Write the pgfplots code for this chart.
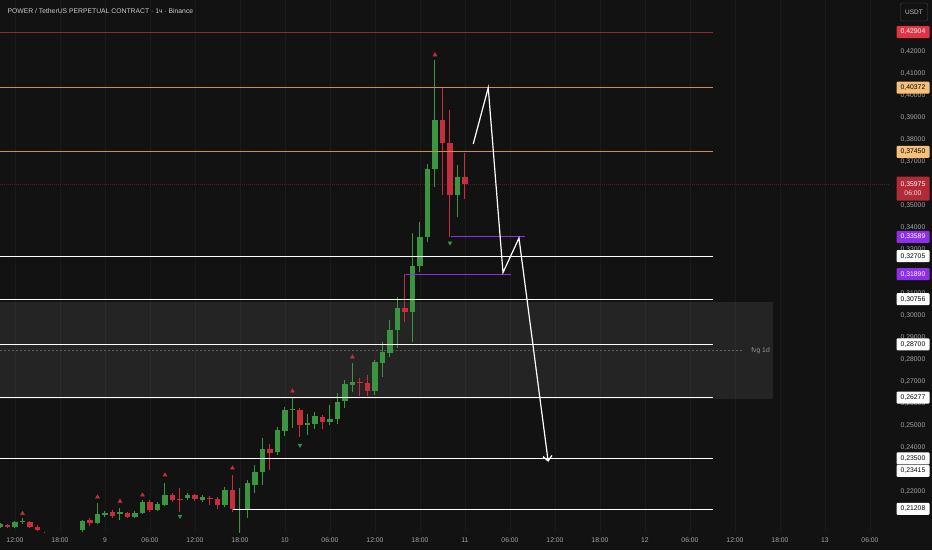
\documentclass[border=0pt]{standalone}
\usepackage{fontspec}
\setmainfont{Liberation Sans}
\usepackage{pgfplots}
\pgfplotsset{compat=1.18}
\usepackage{pgfplotstable}
\usetikzlibrary{arrows.meta}

\definecolor{bgc}{HTML}{121212}
\definecolor{cgreen}{HTML}{3A9440}
\definecolor{cred}{HTML}{C72E3D}
\definecolor{fracgreen}{HTML}{2F8F55}
\definecolor{lvlred}{HTML}{8F2A30}
\definecolor{lvltan}{HTML}{CF8E4E}
\definecolor{labtan}{HTML}{F5C07A}
\definecolor{labred}{HTML}{E23345}
\definecolor{labcur}{HTML}{B02A37}
\definecolor{curline}{HTML}{4E1C21}
\definecolor{cpurple}{HTML}{8E2EE8}
\definecolor{tickc}{HTML}{A6A6A6}
\definecolor{gridc}{HTML}{1B1B1B}

% hourly candles: h = hours from 9th 00:00
\pgfplotstableread{
h   o      hi     lo     c
-14 0.2038 0.2056 0.2034 0.2052
-12 0.2038 0.2065 0.2034 0.2061
-11 0.2063 0.2079 0.2052 0.2065
-6  0.1985 0.1998 0.1975 0.1995
-5  0.1995 0.2005 0.1985 0.2000
-4  0.2000 0.2012 0.1990 0.2005
-3  0.2025 0.2070 0.2016 0.2065
-1  0.2056 0.2148 0.2052 0.2097
0   0.2093 0.2111 0.2084 0.2102
2   0.2100 0.2125 0.2070 0.2102
4   0.2084 0.2111 0.2079 0.2102
5   0.2102 0.2161 0.2097 0.2152
7   0.2116 0.2152 0.2111 0.2143
8   0.2138 0.2239 0.2134 0.2184
11  0.2170 0.2193 0.2161 0.2184
13  0.2161 0.2184 0.2152 0.2175
16  0.2138 0.2220 0.2129 0.2207
18  0.2116 0.2216 0.1985 0.2120
19  0.2116 0.2252 0.2079 0.2239
20  0.2230 0.2320 0.2193 0.2289
21  0.2289 0.2443 0.2229 0.2393
23  0.2380 0.2493 0.2366 0.2480
24  0.2475 0.2584 0.2452 0.2571
25  0.2570 0.2625 0.2489 0.2571
27  0.2502 0.2552 0.2457 0.2511
28  0.2507 0.2561 0.2484 0.2543
30  0.2516 0.2593 0.2502 0.2530
31  0.2530 0.2648 0.2507 0.2607
32  0.2611 0.2707 0.2580 0.2689
33  0.2684 0.2784 0.2652 0.2698
36  0.2657 0.2798 0.2639 0.2789
37  0.2784 0.2880 0.2721 0.2834
38  0.2830 0.2980 0.2812 0.2934
39  0.2934 0.3085 0.2853 0.3035
41  0.3016 0.3376 0.2880 0.3226
42  0.3226 0.3426 0.3198 0.3358
43  0.3358 0.3690 0.3335 0.3667
44  0.3667 0.4163 0.3585 0.3890
47  0.3549 0.3685 0.3449 0.3631
}\greencandles

\pgfplotstableread{
h   o      hi     lo     c
-13 0.2047 0.2052 0.2034 0.2038
-10 0.2061 0.2065 0.2034 0.2038
-9  0.2038 0.2047 0.2020 0.2025
-8  0.2010 0.2014 0.1985 0.1990
-7  0.1990 0.2000 0.1975 0.1985
-2  0.2070 0.2079 0.2043 0.2056
1   0.2106 0.2116 0.2079 0.2088
3   0.2102 0.2106 0.2079 0.2084
6   0.2152 0.2161 0.2106 0.2116
9   0.2184 0.2193 0.2152 0.2161
10  0.2166 0.2216 0.2106 0.2163
12  0.2184 0.2188 0.2156 0.2166
14  0.2170 0.2179 0.2138 0.2166
15  0.2166 0.2175 0.2120 0.2138
17  0.2207 0.2275 0.2106 0.2120
22  0.2393 0.2416 0.2298 0.2375
26  0.2571 0.2580 0.2448 0.2502
29  0.2539 0.2548 0.2484 0.2516
34  0.2695 0.2716 0.2634 0.2693
35  0.2693 0.2730 0.2634 0.2657
40  0.3035 0.3189 0.2971 0.3016
45  0.3890 0.4036 0.3549 0.3785
46  0.3785 0.3936 0.3358 0.3549
48  0.3631 0.3740 0.3531 0.35975
}\redcandles

\tikzset{
  lab/.style={font=\fontsize{6.8}{7.6}\selectfont, inner xsep=1.2pt, inner ysep=1.6pt,
    minimum width=33pt, minimum height=12pt, rounded corners=1pt, anchor=center},
}
\pgfplotsset{
  candle/.style 2 args={#1, only marks, mark=*, mark size=0pt,
    mark options={draw=none, fill=none},
    error bars/.cd, y dir=plus, y explicit, error mark=none,
    error bar style={line width=#2, draw=#1}},
}

\begin{document}
\begin{tikzpicture}
\path[use as bounding box] (0,0) rectangle (932pt,550pt);
\fill[bgc] (0,0) rectangle (932pt,550pt);

\begin{axis}[
  at={(0pt,18pt)}, anchor=south west,
  scale only axis, width=890pt, height=532pt,
  xmin=-14, xmax=104.67, ymin=0.2016, ymax=0.4436,
  axis line style={draw=none},
  major tick length=0pt,
  xtick={-12,-6,0,6,12,18,24,30,36,42,48,54,60,66,72,78,84,90,96,102},
  xticklabels={12:00,18:00,9,06:00,12:00,18:00,10,06:00,12:00,18:00,11,06:00,12:00,18:00,12,06:00,12:00,18:00,13,06:00},
  xmajorgrids, grid style={draw=gridc, line width=0.7pt},
  ytick={0.22,0.24,0.25,0.26,0.27,0.28,0.29,0.30,0.31,0.33,0.34,0.35,0.37,0.38,0.39,0.40,0.41,0.42},
  yticklabel pos=right,
  /pgf/number format/assume math mode=true,
  yticklabel style={/pgf/number format/.cd, fixed, fixed zerofill, precision=5, use comma,
    /tikz/.cd, anchor=center, xshift=23pt},
  xticklabel style={yshift=-2pt},
  tick label style={font=\fontsize{6.8}{8}\selectfont, text=tickc},
  clip=true,
]

% fair value gap zone
\addplot[draw=none, fill=white, fill opacity=0.08] coordinates
  {(-14,0.2621) (89.07,0.2621) (89.07,0.3062) (-14,0.3062)} -- cycle;
\addplot[draw=white!33!bgc, line width=0.6pt, dash pattern=on 2pt off 2pt] coordinates
  {(-14,0.2842) (85.2,0.2842)};

% last price line
\addplot[draw=curline, line width=0.7pt, dash pattern=on 1pt off 1pt] coordinates
  {(-14,0.35975) (104.67,0.35975)};

% wicks
\addplot[candle={cgreen}{1pt}]
  table[x=h, y=lo, y error expr=\thisrow{hi}-\thisrow{lo}] {\greencandles};
\addplot[candle={cred}{1pt}]
  table[x=h, y=lo, y error expr=\thisrow{hi}-\thisrow{lo}] {\redcandles};
% bodies
\addplot[candle={cgreen}{5.5pt}]
  table[x=h, y expr={min(\thisrow{o},\thisrow{c})},
        y error expr={max(abs(\thisrow{c}-\thisrow{o}),0.0005)}] {\greencandles};
\addplot[candle={cred}{5.5pt}]
  table[x=h, y expr={min(\thisrow{o},\thisrow{c})},
        y error expr={max(abs(\thisrow{c}-\thisrow{o}),0.0005)}] {\redcandles};

% fractal markers
\addplot[only marks, mark=triangle*, mark size=2.3pt, color=cred] coordinates
  {(-11,0.2100) (-1,0.2175) (2,0.2156) (5,0.2184) (8,0.2275) (17,0.2307) (25,0.2657) (33,0.2812) (44,0.4186)};
\addplot[only marks, mark=triangle*, mark size=2.3pt, color=fracgreen, mark options={rotate=180}] coordinates
  {(10,0.2088) (26,0.2411) (46,0.3331)};

% horizontal levels
\addplot[draw=lvlred, line width=0.8pt] coordinates {(-14,0.42904) (81.07,0.42904)};
\addplot[draw=lvltan, line width=0.9pt] coordinates {(-14,0.40372) (81.07,0.40372)};
\addplot[draw=lvltan, line width=0.9pt] coordinates {(-14,0.37450) (81.07,0.37450)};
\addplot[draw=white, line width=0.8pt] coordinates {(-14,0.32705) (81.07,0.32705)};
\addplot[draw=white, line width=0.8pt] coordinates {(-14,0.30756) (81.07,0.30756)};
\addplot[draw=white, line width=0.8pt] coordinates {(-14,0.28700) (81.07,0.28700)};
\addplot[draw=white, line width=0.8pt] coordinates {(-14,0.26277) (81.07,0.26277)};
\addplot[draw=white, line width=0.8pt] coordinates {(-14,0.23500) (81.07,0.23500)};
\addplot[draw=white, line width=0.8pt] coordinates {(17.07,0.21208) (81.07,0.21208)};
\addplot[draw=cpurple, line width=1pt] coordinates {(46.1,0.33589) (56,0.33589)};
\addplot[draw=cpurple, line width=1pt] coordinates {(40.1,0.31890) (54.1,0.31890)};

% projected path
\addplot[draw=white, line width=1.2pt, -{Straight Barb[length=5pt,width=9pt]}] coordinates
  {(49.1,0.3781) (51.1,0.4037) (53.07,0.3196) (55.2,0.3353) (59.1,0.2335)};

\node[anchor=west, text=white!55!bgc, font=\fontsize{6.8}{8}\selectfont] at (axis cs:85.7,0.2842) {fvg 1d};

\coordinate (pA) at (axis cs:104.67,0.42904);
\coordinate (pB) at (axis cs:104.67,0.40372);
\coordinate (pC) at (axis cs:104.67,0.37450);
\coordinate (pD) at (axis cs:104.67,0.35975);
\coordinate (pE) at (axis cs:104.67,0.33589);
\coordinate (pF) at (axis cs:104.67,0.32705);
\coordinate (pG) at (axis cs:104.67,0.31890);
\coordinate (pH) at (axis cs:104.67,0.30756);
\coordinate (pI) at (axis cs:104.67,0.28700);
\coordinate (pJ) at (axis cs:104.67,0.26277);
\coordinate (pK) at (axis cs:104.67,0.23505);
\coordinate (pL) at (axis cs:104.67,0.22937);
\coordinate (pM) at (axis cs:104.67,0.21208);
\end{axis}

% price scale badges
\node[lab, fill=labred, text=white] at ([xshift=23pt]pA) {0,42904};
\node[lab, fill=labtan, text=black] at ([xshift=23pt]pB) {0,40372};
\node[lab, fill=labtan, text=black] at ([xshift=23pt]pC) {0,37450};
\node[lab, fill=labcur, text=white, anchor=north, align=center, minimum height=24pt]
  at ([xshift=23pt,yshift=8pt]pD) {0,35975\\[1pt]\textcolor{white!85!labcur}{06:00}};
\node[lab, fill=cpurple, text=white] at ([xshift=23pt]pE) {0,33589};
\node[lab, fill=white, text=black] at ([xshift=23pt]pF) {0,32705};
\node[lab, fill=cpurple, text=white] at ([xshift=23pt]pG) {0,31890};
\node[lab, fill=white, text=black] at ([xshift=23pt]pH) {0,30756};
\node[lab, fill=white, text=black] at ([xshift=23pt]pI) {0,28700};
\node[lab, fill=white, text=black] at ([xshift=23pt]pJ) {0,26277};
\node[lab, fill=white, text=black] at ([xshift=23pt]pK) {0,23500};
\node[lab, fill=white, text=black] at ([xshift=23pt]pL) {0,23415};
\node[lab, fill=white, text=black] at ([xshift=23pt]pM) {0,21208};

% header
\node[anchor=west, text=white!78!bgc, font=\fontsize{6.8}{8}\selectfont] at (4pt,539pt)
  {POWER / TetherUS PERPETUAL CONTRACT · 1ч · Binance};
\node[draw=white!22!bgc, rounded corners=2pt, minimum width=27pt, minimum height=18pt,
  text=white!75!bgc, font=\fontsize{6.5}{8}\selectfont] at (914pt,538pt) {USDT};
\end{tikzpicture}
\end{document}
